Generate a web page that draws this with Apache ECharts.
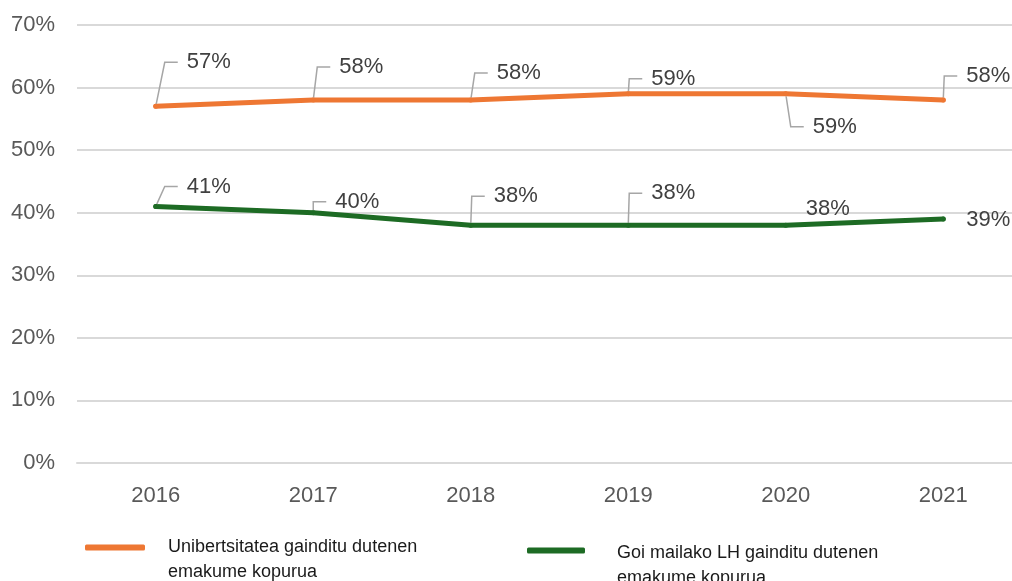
<!DOCTYPE html>
<html><head><meta charset="utf-8">
<script src="https://cdn.jsdelivr.net/npm/echarts@6/dist/echarts.min.js"></script>
<style>html,body{margin:0;padding:0;background:#fff}#c{width:1012px;height:581px}</style>
</head><body><div id="c"></div>
<script>
const years = ['2016','2017','2018','2019','2020','2021'];
const uniName = 'Unibertsitatea gainditu dutenen\nemakume kopurua';
const lhName = 'Goi mailako LH gainditu dutenen\nemakume kopurua';
const uniValues = [57, 58, 58, 59, 59, 58];
const lhValues = [41, 40, 38, 38, 38, 39];
const yTicks = [0, 10, 20, 30, 40, 50, 60, 70];

// label offsets (text left / center relative to point), styling only
const uniOffsets = [[31,-44],[26,-33],[26,-27],[23,-15],[27,33],[23,-24]];
const lhOffsets = [[31,-20],[22,-11],[23,-29],[23,-32],[20,-16],[23,1]];
const lhNoLine = [false,false,false,false,true,true];

const chart = echarts.init(document.getElementById('c'));
const FONT = 'Liberation Sans, Arial, sans-serif';
function mkData(vals, noLine){
  return vals.map((v,i)=>({value:v, labelLine:{show: !(noLine && noLine[i])}}));
}
function series(name, vals, color, offs, noLine){
  return {
    name, type:'line', data: mkData(vals, noLine),
    symbol:'circle', symbolSize:5, showSymbol:true,
    itemStyle:{color},
    lineStyle:{color, width:5, cap:'round', join:'round'},
    label:{show:true, position:'right', distance:0, formatter:'{g|}{v|{c}%}',
      rich:{g:{width:9}, v:{fontFamily:FONT, fontSize:22, color:'#404040'}}},
    labelLine:{show:true, length2:13, lineStyle:{color:'#A6A6A6', width:1.5}},
    labelLayout:(p)=>({dx: offs[p.dataIndex][0]-11.5, dy: offs[p.dataIndex][1]}),
    emphasis:{disabled:true}, animation:false, z:3
  };
}
function legendFmt(spacer){
  return (name)=>'{s| }\n' + name.split('\n').map(t=>'{t|'+t+'}').join('\n');
}
function legendText(spacer){
  return {fontFamily:'Liberation Sans Narrow, Arial Narrow, Liberation Sans, sans-serif', fontSize:18, color:'#1a1a1a',
    padding:[0,0,0,18],
    rich:{s:{height:spacer, lineHeight:spacer, fontSize:4}, t:{fontFamily:'Liberation Sans Narrow, Arial Narrow, Liberation Sans, sans-serif', fontSize:18, color:'#1a1a1a', lineHeight:25, height:25}}};
}
const lt2 = legendText(31); lt2.padding = [0,0,0,27];
chart.setOption({
  animation:false,
  grid:{left:77, width:945, top:25, bottom:118, containLabel:false, outerBoundsMode:'none'},
  xAxis:{type:'category', data:years, boundaryGap:true,
    axisLine:{show:true, lineStyle:{color:'#D9D9D9', width:2}}, axisTick:{show:false},
    axisLabel:{margin:22, fontFamily:FONT, fontSize:22, color:'#595959'}},
  yAxis:{type:'value', min:yTicks[0], max:yTicks[yTicks.length-1], interval:10,
    axisLine:{show:false}, axisTick:{show:false},
    splitLine:{lineStyle:{color:'#D9D9D9', width:2}},
    axisLabel:{margin:22, fontFamily:FONT, fontSize:22, color:'#595959', formatter:'{value}%'}},
  legend:[
    {data:[uniName], left:85, top:510, padding:0, icon:'roundRect', itemWidth:60, itemHeight:6,
     formatter:legendFmt(25), textStyle:legendText(25)},
    {data:[lhName], left:527, top:510, padding:0, icon:'roundRect', itemWidth:58, itemHeight:6,
     formatter:legendFmt(31), textStyle:lt2}
  ],
  series:[
    series(uniName, uniValues, '#EE7733', uniOffsets, null),
    series(lhName, lhValues, '#1D6B24', lhOffsets, lhNoLine)
  ]
});
</script></body></html>
